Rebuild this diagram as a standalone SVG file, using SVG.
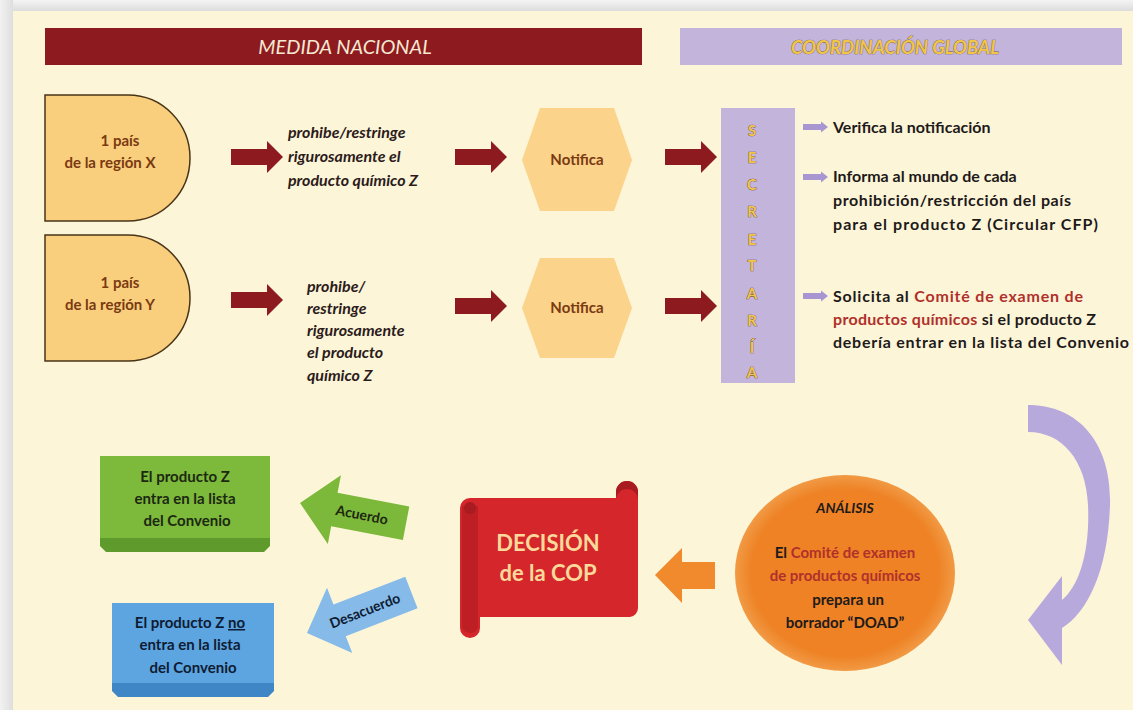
<svg xmlns="http://www.w3.org/2000/svg" width="1133" height="710" viewBox="0 0 1133 710">
<defs>
<linearGradient id="topg" x1="0" y1="0" x2="0" y2="1"><stop offset="0" stop-color="#f4f4f4"/><stop offset="1" stop-color="#dcdcdc"/></linearGradient>
<linearGradient id="leftg" x1="0" y1="0" x2="1" y2="0"><stop offset="0" stop-color="#f2f2f2"/><stop offset="1" stop-color="#dedede"/></linearGradient>
<radialGradient id="ellg" cx="0.5" cy="0.5" r="0.5"><stop offset="0.85" stop-color="#EE8225"/><stop offset="1" stop-color="#F19A45"/></radialGradient>
<path id="bulletArrow" d="M0,-3 L18,-3 L18,-5.5 L25,0 L18,5.5 L18,3 L0,3 Z"/>
<path id="redArrow" d="M0,-8 L36,-8 L36,-16 L52,0 L36,16 L36,8 L0,8 Z"/>
</defs>
<style>
.bold{font-family:Lato,"Open Sans",sans-serif;font-weight:bold}
.node{fill:#F9CE7D;stroke:#4A3418;stroke-width:1.5}
.ntxt{fill:#7A3A12;font-size:15px;text-anchor:middle}
.ital{font-family:Lato,"Open Sans",sans-serif;font-weight:bold;font-style:italic;font-size:16px;fill:#2B1B1B}
.hex{fill:#FCD38A}
.notif{fill:#7A3A12;font-size:15px;text-anchor:middle}
.red{fill:#8C1A1F}
.lav{fill:#C3B4DC}
.sec{font-family:Lato,"Open Sans",sans-serif;font-weight:bold;font-size:15px;fill:#F4C548;stroke:#5B4630;stroke-width:0.7;paint-order:stroke;text-anchor:middle}
.bt{fill:#1E1A1A;font-size:16px}
.rb{fill:#B0302B}
.bullet{fill:#A796D2}
.boxtxt{font-size:15px;text-anchor:middle}
</style>
<rect x="0" y="0" width="1133" height="710" fill="#FDF5D8"/>
<rect x="0" y="0" width="1133" height="11" fill="url(#topg)"/>
<rect x="0" y="0" width="13" height="710" fill="url(#leftg)"/>

<g id="header-medida">
<rect x="45" y="28" width="597" height="37" class="red"/>
<text x="345" y="54" style="font-family:Lato,'Open Sans',sans-serif;font-style:italic;font-size:20px;fill:#F6E8D2;text-anchor:middle">MEDIDA NACIONAL</text>
</g>
<g id="header-coordinacion">
<rect x="680" y="28" width="442" height="37" class="lav"/>
<text x="895" y="54" style="font-family:Lato,'Open Sans',sans-serif;font-style:italic;font-weight:bold;font-size:18.5px;fill:#F2C545;stroke:#6B5A40;stroke-width:0.7;paint-order:stroke;text-anchor:middle">COORDINACIÓN GLOBAL</text>
</g>

<g id="pais-x">
<path class="node" d="M45,95 L128,95 A62,63 0 0 1 128,221 L45,221 Z"/>
<text class="bold ntxt" x="120" y="146">1 país</text>
<text class="bold ntxt" x="110" y="168">de la región X</text>
</g>
<g id="pais-y">
<path class="node" d="M45,235 L128,235 A62,63 0 0 1 128,361 L45,361 Z"/>
<text class="bold ntxt" x="120" y="288">1 país</text>
<text class="bold ntxt" x="110" y="310">de la región Y</text>
</g>

<g id="accion-x">
<text class="ital" x="288" y="138">prohibe/restringe</text>
<text class="ital" x="288" y="162">rigurosamente el</text>
<text class="ital" x="288" y="186">producto químico Z</text>
</g>
<g id="accion-y">
<text class="ital" x="307" y="292">prohibe/</text>
<text class="ital" x="307" y="314">restringe</text>
<text class="ital" x="307" y="336">rigurosamente</text>
<text class="ital" x="307" y="358">el producto</text>
<text class="ital" x="307" y="381">químico Z</text>
</g>

<g id="notifica-1">
<polygon class="hex" points="522,160 540,108 614,108 632,160 614,211 540,211"/>
<text class="bold notif" x="577" y="165">Notifica</text>
</g>
<g id="notifica-2">
<polygon class="hex" points="522,308 540,258 614,258 632,308 614,358 540,358"/>
<text class="bold notif" x="577" y="313">Notifica</text>
</g>

<g id="secretaria">
<rect x="721" y="108" width="74" height="275" class="lav"/>
<text class="sec" x="752" y="136">S</text>
<text class="sec" x="752" y="163">E</text>
<text class="sec" x="752" y="190">C</text>
<text class="sec" x="752" y="217">R</text>
<text class="sec" x="752" y="245">E</text>
<text class="sec" x="752" y="271">T</text>
<text class="sec" x="752" y="299">A</text>
<text class="sec" x="752" y="326">R</text>
<text class="sec" x="752" y="353">Í</text>
<text class="sec" x="752" y="378">A</text>
</g>

<g id="tareas">
<use href="#bulletArrow" class="bullet" x="803" y="127"/>
<text class="bold bt" x="833" y="133">Verifica la notificación</text>
<use href="#bulletArrow" class="bullet" x="803" y="177"/>
<text class="bold bt" x="833" y="182">Informa al mundo de cada</text>
<text class="bold bt" x="833" y="206" textLength="238" lengthAdjust="spacing">prohibición/restricción del país</text>
<text class="bold bt" x="833" y="230" textLength="265" lengthAdjust="spacing">para el producto Z (Circular CFP)</text>
<use href="#bulletArrow" class="bullet" x="803" y="296"/>
<text class="bold bt" x="833" y="302" textLength="250" lengthAdjust="spacing">Solicita al <tspan class="rb">Comité de examen de</tspan></text>
<text class="bold bt" x="833" y="325" textLength="263" lengthAdjust="spacing"><tspan class="rb">productos químicos</tspan> si el producto Z</text>
<text class="bold bt" x="833" y="348" textLength="296" lengthAdjust="spacing">debería entrar en la lista del Convenio</text>
</g>

<g id="analisis">
<ellipse cx="845" cy="573" rx="110" ry="98" fill="url(#ellg)"/>
<text class="bold" x="845" y="513" style="font-style:italic;font-size:14px;fill:#1E1A1A;text-anchor:middle">ANÁLISIS</text>
<text class="bold boxtxt" x="845" y="558" fill="#1E1A1A">El <tspan class="rb">Comité de examen</tspan></text>
<text class="bold boxtxt rb" x="845" y="581">de productos químicos</text>
<text class="bold boxtxt" x="848" y="605" fill="#1E1A1A">prepara un</text>
<text class="bold boxtxt" x="845" y="628" fill="#1E1A1A">borrador “DOAD”</text>
</g>

<g id="decision-cop">
<path d="M616,498 L616,492 A11,11 0 0 1 638,492 L638,608 A9,9 0 0 1 630,617 L480,617 L480,628 A10,10 0 0 1 460,628 L460,508 A10,10 0 0 1 470,498 Z" fill="#D5262B"/>
<path d="M616,498 L616,492 A11,11 0 0 1 638,492 L638,500 A11,11 0 0 0 616,500 Z" fill="#A81B20"/>
<path d="M462,506 L462,628 A9,9 0 0 0 478,628 L478,506 Z" fill="#BE1F24"/>
<circle cx="470" cy="508" r="6" fill="#A81B20"/>
<text class="bold" x="548" y="551" style="font-size:22px;fill:#FBD99B;text-anchor:middle">DECISIÓN</text>
<text class="bold" x="548" y="581" style="font-size:22px;fill:#FBD99B;text-anchor:middle">de la COP</text>
</g>

<g id="entra">
<rect x="100" y="456" width="170" height="84" fill="#7DBA3C"/>
<path d="M100,538 L270,538 L270,546 L264,552 L106,552 L100,546 Z" fill="#5F9A2C"/>
<text class="bold boxtxt" x="185" y="482" fill="#1C2810">El producto Z</text>
<text class="bold boxtxt" x="185" y="504" fill="#1C2810">entra en la lista</text>
<text class="bold boxtxt" x="187" y="526" fill="#1C2810">del Convenio</text>
</g>
<g id="no-entra">
<rect x="112" y="603" width="162" height="82" fill="#5DA5E0"/>
<path d="M112,683 L274,683 L274,691 L268,697 L118,697 L112,691 Z" fill="#3F86C6"/>
<text class="bold boxtxt" x="190" y="628" fill="#0F1C33">El producto Z <tspan text-decoration="underline">no</tspan></text>
<text class="bold boxtxt" x="190" y="650" fill="#0F1C33">entra en la lista</text>
<text class="bold boxtxt" x="193" y="673" fill="#0F1C33">del Convenio</text>
</g>

<g id="connectors">
<use href="#redArrow" x="231" y="157" fill="#8C1A1F"/>
<use href="#redArrow" x="455" y="157" fill="#8C1A1F"/>
<use href="#redArrow" x="665" y="157" fill="#8C1A1F"/>
<use href="#redArrow" x="231" y="300" fill="#8C1A1F"/>
<use href="#redArrow" x="455" y="306" fill="#8C1A1F"/>
<use href="#redArrow" x="665" y="306" fill="#8C1A1F"/>
<path d="M1028,405 C1080,405 1112,445 1110,505 C1108,570 1088,612 1062,628 L1062,665 L1028,620 L1062,576 L1062,600 C1080,585 1090,550 1088,505 C1086,460 1062,432 1028,432 Z" fill="#B8A9DD"/>
<path d="M715,562 L682,562 L682,548 L655,575 L682,603 L682,589 L715,589 Z" fill="#F08A2C"/>
<g transform="translate(300,503) rotate(10.8)">
<path d="M0,0 L35,-35 L35,-17 L108,-17 L108,17 L35,17 L35,35 Z" fill="#7CB83A"/>
<text class="bold" x="63" y="5" style="font-size:14px;fill:#1C2810;text-anchor:middle">Acuerdo</text>
</g>
<g transform="translate(307,633) rotate(-21.2)">
<path d="M0,0 L35,-35 L35,-17 L112,-17 L112,17 L35,17 L35,35 Z" fill="#86BAE8"/>
<text class="bold" x="62" y="5" style="font-size:14px;fill:#0F1C33;text-anchor:middle">Desacuerdo</text>
</g>
</g>
</svg>
